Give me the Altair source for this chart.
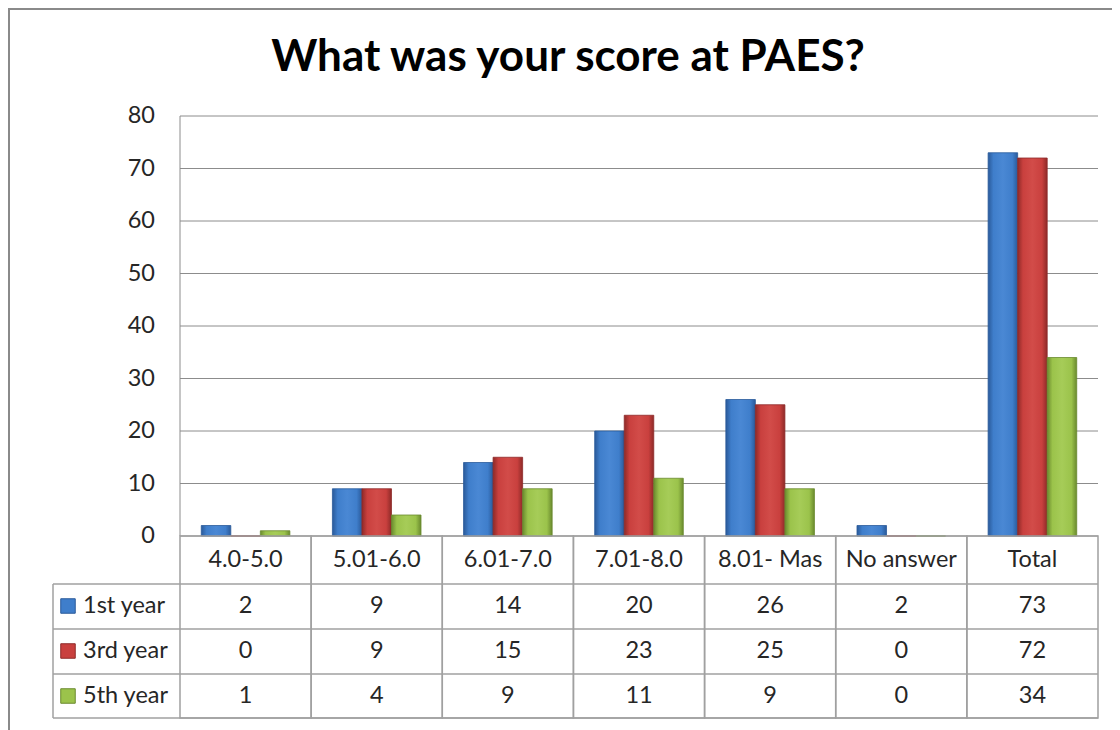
import altair as alt
import pandas as pd

categories = ["4.0-5.0", "5.01-6.0", "6.01-7.0", "7.01-8.0", "8.01- Mas", "No answer", "Total"]
series_names = ["1st year", "3rd year", "5th year"]
first_year = [2, 9, 14, 20, 26, 2, 73]
third_year = [0, 9, 15, 23, 25, 0, 72]
fifth_year = [1, 4, 9, 11, 9, 0, 34]
y_ticks = [0, 10, 20, 30, 40, 50, 60, 70, 80]

values_by_series = {"1st year": first_year, "3rd year": third_year, "5th year": fifth_year}
rows = []
for s in series_names:
    for c, v in zip(categories, values_by_series[s]):
        rows.append({"cat": c, "series": s, "value": v})
df = pd.DataFrame(rows)
cat_df = pd.DataFrame({"cat": categories})
tick_df = pd.DataFrame({"value": y_ticks})

FONT = "Lato"
FS = 23.5
W, H = 1104, 722
PL, PR, PT, PB = 172, 1090, 108, 528
ROW_LINES = [576, 621, 666, 710]
ROW_CENTERS = [598, 643, 688]
GRID = "#a0a0a0"
TXT = "#262626"

colors = {
    "1st year": ("#2a5a9a", "#3f7ecb", "#4a88d4"),
    "3rd year": ("#8e2a28", "#c9403e", "#d24c49"),
    "5th year": ("#6a8a2e", "#9bc34b", "#a6cc58"),
}

xscale = alt.Scale(domain=categories, range=[PL, PR], paddingInner=0, paddingOuter=0)
yscale = alt.Scale(domain=[0, 80], range=[PB, PT], nice=False, zero=True)
X = alt.X("cat:N", scale=xscale, axis=None, sort=categories)
Y = alt.Y("value:Q", scale=yscale, axis=None)

layers = []

# outer border
layers.append(
    alt.Chart(cat_df.head(1)).mark_rect(fill="white", stroke="#8a8a8a", strokeWidth=2).encode(
        x=alt.value(1), x2=alt.value(1300), y=alt.value(1), y2=alt.value(1000)
    )
)

# gridlines
layers.append(
    alt.Chart(tick_df).mark_rule(color="#8c8c8c", strokeWidth=1).encode(
        y=Y, x=alt.value(PL), x2=alt.value(PR)
    )
)
# left axis line
layers.append(
    alt.Chart(cat_df.head(1)).mark_rule(color="#8c8c8c", strokeWidth=1).encode(
        x=alt.value(PL), y=alt.value(PT), y2=alt.value(PB)
    )
)
# y tick labels
layers.append(
    alt.Chart(tick_df).mark_text(align="right", baseline="middle", font=FONT, fontSize=FS, color=TXT).encode(
        y=Y, x=alt.value(147), text=alt.Text("value:Q")
    )
)

# bars
for s in series_names:
    dark, mid, light = colors[s]
    grad = alt.LinearGradient(
        gradient="linear",
        stops=[
            alt.GradientStop(color=dark, offset=0),
            alt.GradientStop(color=mid, offset=0.18),
            alt.GradientStop(color=light, offset=0.5),
            alt.GradientStop(color=mid, offset=0.82),
            alt.GradientStop(color=dark, offset=1),
        ],
        x1=0, x2=1, y1=0, y2=0,
    )
    layers.append(
        alt.Chart(df[df.series == s]).mark_bar(color=grad, stroke=dark, strokeWidth=0.8).encode(
            x=X,
            xOffset=alt.XOffset("series:N", scale=alt.Scale(domain=series_names, paddingInner=0, paddingOuter=0.72)),
            y=Y,
            y2=alt.datum(0),
        )
    )

# table column cells
layers.append(
    alt.Chart(cat_df).mark_rect(fillOpacity=0, stroke=GRID, strokeWidth=1.5).encode(
        x=X, y=alt.value(PB), y2=alt.value(ROW_LINES[-1])
    )
)
# horizontal table lines
for yl in ROW_LINES:
    layers.append(
        alt.Chart(cat_df.head(1)).mark_rule(color=GRID, strokeWidth=1.5).encode(
            x=alt.value(45), x2=alt.value(PR), y=alt.value(yl)
        )
    )
layers.append(
    alt.Chart(cat_df.head(1)).mark_rule(color=GRID, strokeWidth=1.5).encode(
        x=alt.value(45), y=alt.value(ROW_LINES[0]), y2=alt.value(ROW_LINES[-1])
    )
)
# category header labels
layers.append(
    alt.Chart(cat_df).mark_text(baseline="middle", font=FONT, fontSize=FS, color=TXT).encode(
        x=X, y=alt.value(552), text="cat:N"
    )
)
# table values and legend labels
for s, yc in zip(series_names, ROW_CENTERS):
    dark, mid, light = colors[s]
    sdf = df[df.series == s]
    layers.append(
        alt.Chart(sdf).mark_text(baseline="middle", font=FONT, fontSize=FS, color=TXT).encode(
            x=X, y=alt.value(yc), text="value:Q"
        )
    )
    layers.append(
        alt.Chart(sdf.head(1)).mark_square(size=210, color=mid, stroke=dark, strokeWidth=1, opacity=1).encode(
            x=alt.value(60), y=alt.value(yc)
        )
    )
    layers.append(
        alt.Chart(sdf.head(1)).mark_text(align="left", baseline="middle", font=FONT, fontSize=FS, color=TXT).encode(
            x=alt.value(75), y=alt.value(yc), text="series:N"
        )
    )

# title
layers.append(
    alt.Chart(cat_df.head(1)).mark_text(align="center", baseline="middle", font=FONT, fontSize=44, fontWeight="bold", color="#000000").encode(
        x=alt.value(560), y=alt.value(50), text=alt.value("What was your score at PAES?")
    )
)

chart = alt.layer(*layers).properties(
    width=W, height=H, autosize=alt.AutoSizeParams(type="none"), padding=0
).configure_view(strokeWidth=0).configure(background="white")

chart.save("out.html", embed_options={"renderer": "svg", "actions": False})
